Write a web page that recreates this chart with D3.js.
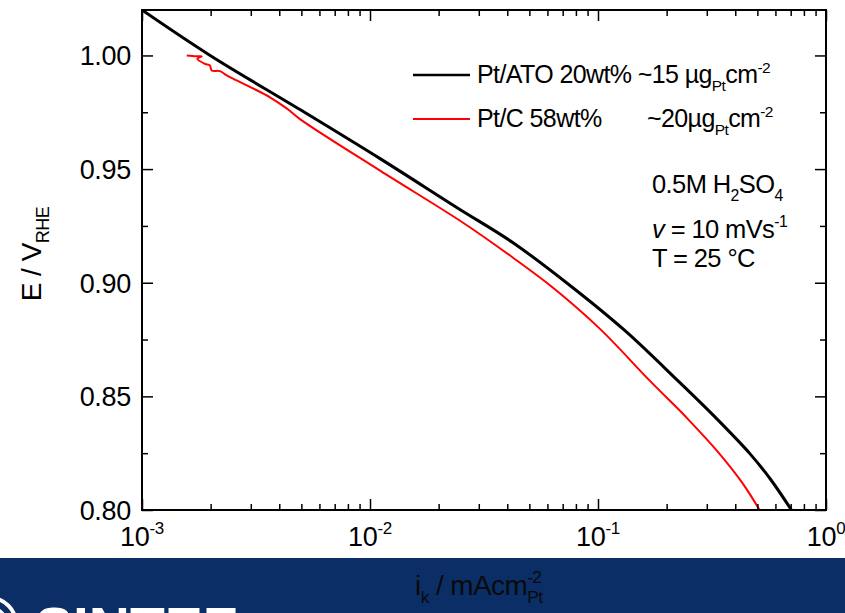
<!DOCTYPE html>
<html>
<head>
<meta charset="utf-8">
<script src="https://cdn.jsdelivr.net/npm/d3@7"></script>
<style>
  body { margin: 0; background: #fff; }
  svg { display: block; font-family: "Liberation Sans", Arial, sans-serif; }
</style>
</head>
<body>
<div id="chart"></div>
<script>
// axis ticks
const xDecades = [1e-3, 1e-2, 1e-1, 1];
const xExponents = ["-3", "-2", "-1", "0"];
const yTicks = [0.80, 0.85, 0.90, 0.95, 1.00];
const yMinorTicks = [0.825, 0.875, 0.925, 0.975];

// Pt/ATO 20wt% (black)
const atoCurrent = [0.001, 0.00199, 0.00493, 0.01107, 0.0241, 0.0424, 0.0776, 0.131, 0.2244, 0.3327, 0.4645, 0.574, 0.7096];
const atoPotential = [1.020, 1.000, 0.9762, 0.9546, 0.933, 0.9176, 0.8978, 0.879, 0.8568, 0.8400, 0.8247, 0.8132, 0.7996];

// Pt/C 58wt% (red)
const pcCurrent = [0.001571, 0.001726, 0.001828, 0.001749, 0.001888, 0.001986, 0.002021, 0.002199, 0.002351, 0.0026, 0.003069, 0.00364, 0.00431, 0.00493, 0.01107, 0.0256, 0.0424, 0.0635, 0.102, 0.169, 0.229, 0.248, 0.3327, 0.4325, 0.514];
const pcPotential = [1.000, 0.9996, 0.9996, 0.9985, 0.9963, 0.9956, 0.9934, 0.9931, 0.9912, 0.989, 0.9855, 0.9816, 0.9767, 0.9720, 0.9493, 0.9264, 0.911, 0.8978, 0.8797, 0.8568, 0.8436, 0.840, 0.826, 0.8115, 0.7996];

const width = 845, height = 613;
const plotLeft = 142, plotRight = 826, plotTop = 10, plotBottom = 510;

const svg = d3.select("#chart").append("svg")
    .attr("width", width)
    .attr("height", height);

const x = d3.scaleLog().domain([1e-3, 1]).range([plotLeft, plotRight]);
const y = d3.scaleLinear().domain([0.80, 1.02]).range([plotBottom, plotTop]);

// minor log ticks
let xMinor = [];
xDecades.slice(0, 3).forEach(d => {
    for (let k = 2; k <= 9; k++) xMinor.push(d * k);
});

// curves
svg.append("clipPath").attr("id", "clip")
    .append("rect")
    .attr("x", plotLeft).attr("y", plotTop)
    .attr("width", plotRight - plotLeft).attr("height", plotBottom - plotTop);

const line = d3.line()
    .x(d => x(d[0]))
    .y(d => y(d[1]))
    .curve(d3.curveCatmullRom.alpha(0.5));

svg.append("path")
    .datum(pcCurrent.map((c, i) => [c, pcPotential[i]]))
    .attr("clip-path", "url(#clip)")
    .attr("fill", "none")
    .attr("stroke", "#ff0000")
    .attr("stroke-width", 2)
    .attr("stroke-linejoin", "round")
    .attr("d", line);

svg.append("path")
    .datum(atoCurrent.map((c, i) => [c, atoPotential[i]]))
    .attr("clip-path", "url(#clip)")
    .attr("fill", "none")
    .attr("stroke", "#000")
    .attr("stroke-width", 3)
    .attr("d", line);

// axes, ticks pointing inward on all sides
function drawAxis(axis, tr) {
    const g = svg.append("g").attr("transform", tr).call(axis);
    g.selectAll("line").attr("stroke", "#000").attr("stroke-width", 1.5);
    g.select(".domain").remove();
    g.selectAll("text").remove();
    return g;
}

drawAxis(d3.axisBottom(x).tickValues(xDecades).tickSize(-11), `translate(0,${plotBottom})`);
drawAxis(d3.axisBottom(x).tickValues(xMinor).tickSize(-6), `translate(0,${plotBottom})`);
drawAxis(d3.axisTop(x).tickValues(xDecades).tickSize(-11), `translate(0,${plotTop})`);
drawAxis(d3.axisTop(x).tickValues(xMinor).tickSize(-6), `translate(0,${plotTop})`);
drawAxis(d3.axisLeft(y).tickValues(yTicks).tickSize(-11), `translate(${plotLeft},0)`);
drawAxis(d3.axisLeft(y).tickValues(yMinorTicks).tickSize(-6), `translate(${plotLeft},0)`);
drawAxis(d3.axisRight(y).tickValues(yTicks).tickSize(-11), `translate(${plotRight},0)`);
drawAxis(d3.axisRight(y).tickValues(yMinorTicks).tickSize(-6), `translate(${plotRight},0)`);

svg.append("rect")
    .attr("x", plotLeft).attr("y", plotTop)
    .attr("width", plotRight - plotLeft).attr("height", plotBottom - plotTop)
    .attr("fill", "none")
    .attr("stroke", "#000")
    .attr("stroke-width", 2);

// tick labels
svg.append("g").selectAll("text")
    .data(yTicks)
    .join("text")
    .attr("x", plotLeft - 11)
    .attr("y", d => y(d) + 10)
    .attr("text-anchor", "end")
    .attr("font-size", 27)
    .attr("letter-spacing", -0.3)
    .text(d => d.toFixed(2));

const xl = svg.append("g").selectAll("text")
    .data(xDecades)
    .join("text")
    .attr("x", d => x(d))
    .attr("y", 546)
    .attr("text-anchor", "middle")
    .attr("font-size", 27)
    .attr("letter-spacing", -0.3);
xl.append("tspan").text("10");
xl.append("tspan")
    .attr("font-size", 17)
    .attr("dy", -12)
    .text((d, i) => xExponents[i]);

// y axis title
const yt = svg.append("text")
    .attr("transform", `translate(41,254) rotate(-90)`)
    .attr("text-anchor", "middle")
    .attr("font-size", 28)
    .attr("letter-spacing", -0.5);
yt.append("tspan").text("E / V");
yt.append("tspan").attr("font-size", 18).attr("dy", 8).text("RHE");

// legend
const legend = svg.append("g");
legend.append("line").attr("x1", 413).attr("x2", 470).attr("y1", 75).attr("y2", 75)
    .attr("stroke", "#000").attr("stroke-width", 2.5);
legend.append("line").attr("x1", 413).attr("x2", 470).attr("y1", 119).attr("y2", 119)
    .attr("stroke", "#ff0000").attr("stroke-width", 2);

function richText(g, xPos, yPos, parts, size) {
    const t = g.append("text")
        .attr("x", xPos).attr("y", yPos)
        .attr("font-size", size)
        .attr("letter-spacing", -0.6);
    let shift = 0, prev = null;
    parts.forEach(p => {
        const target = p.sub ? size * 0.3 : p.sup ? -size * 0.42 : 0;
        const ts = t.append("tspan").attr("dy", target - shift).text(p.t);
        if (p.sub || p.sup) ts.attr("font-size", size * 0.62);
        if (p.italic) ts.attr("font-style", "italic");
        if (p.stack && prev) ts.attr("dx", -prev.node().getComputedTextLength());
        shift = target;
        prev = ts;
    });
    return t;
}

richText(legend, 477, 83, [
    { t: "Pt/ATO 20wt% ~15 µg" }, { t: "Pt", sub: true }, { t: "cm" }, { t: "-2", sup: true }
], 25);
richText(legend, 477, 127, [{ t: "Pt/C 58wt%" }], 25);
richText(legend, 647, 127, [
    { t: "~20µg" }, { t: "Pt", sub: true }, { t: "cm" }, { t: "-2", sup: true }
], 25);

// conditions
richText(svg, 652, 193, [
    { t: "0.5M H" }, { t: "2", sub: true }, { t: "SO" }, { t: "4", sub: true }
], 25.5);
richText(svg, 652, 238, [
    { t: "v", italic: true }, { t: " = 10 mVs" }, { t: "-1", sup: true }
], 25.5);
richText(svg, 652, 267, [{ t: "T = 25 °C" }], 25.5);

// footer banner
svg.append("rect")
    .attr("x", 0).attr("y", 558)
    .attr("width", width).attr("height", height - 558)
    .attr("fill", "#0b2e66");

[16, 26].forEach(r => {
    svg.append("circle")
        .attr("cx", -10).attr("cy", 624)
        .attr("r", r)
        .attr("fill", "none")
        .attr("stroke", "#fff")
        .attr("stroke-width", 4);
});

svg.append("text")
    .attr("x", 35).attr("y", 648)
    .attr("font-size", 57)
    .attr("font-weight", "bold")
    .attr("fill", "#fff")
    .text("SINTEF");

// x axis title sits on the banner
richText(svg, 415, 595, [
    { t: "i" }, { t: "k", sub: true }, { t: " / mAcm" }, { t: "-2", sup: true }, { t: "Pt", sub: true, stack: true }
], 28).attr("fill", "#0a0a0a");
</script>
</body>
</html>
